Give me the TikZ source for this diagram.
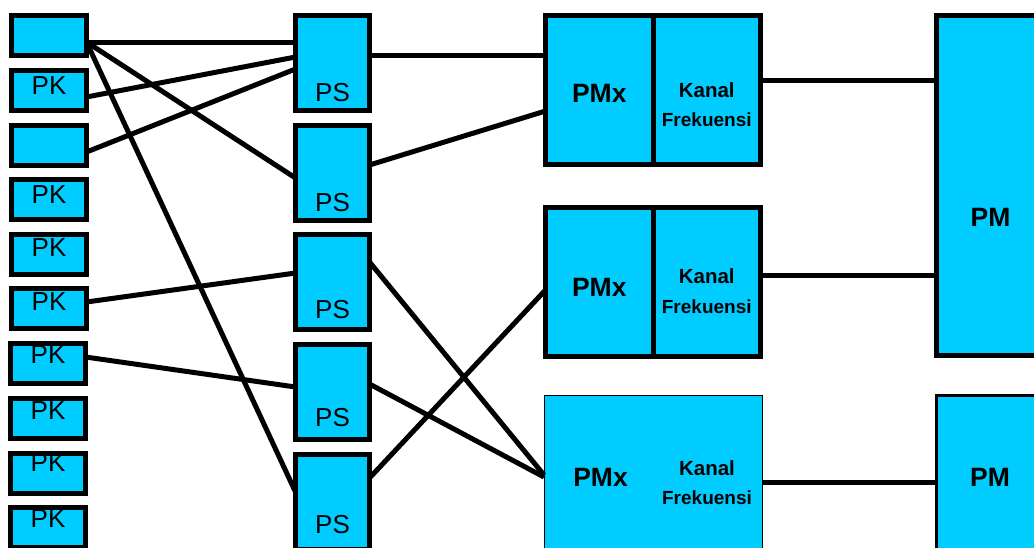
\documentclass[tikz,border=0pt]{standalone}
\usepackage{fontspec}
\setmainfont{Liberation Sans}
\definecolor{boxcyan}{HTML}{00CCFF}
\tikzset{
  blk/.style={draw=black, fill=boxcyan, line width=5pt, outer sep=0pt, inner sep=0pt},
  pkbox/.style={blk, minimum width=75pt, minimum height=40pt},
  psbox/.style={blk, minimum width=74pt, minimum height=95pt},
  halfbox/.style={blk, minimum width=107.5pt, minimum height=149pt},
  wire/.style={line width=5pt},
  pklab/.style={font=\fontsize{26}{30}\selectfont, inner sep=0pt},
  boldlab/.style={font=\fontsize{26.5}{30}\selectfont\bfseries, inner sep=0pt},
  kanal/.style={font=\fontsize{20.5}{24}\selectfont\bfseries, inner sep=0pt},
  frek/.style={font=\fontsize{19}{22}\selectfont\bfseries, inner sep=0pt},
}
\begin{document}
\begin{tikzpicture}[x=1pt,y=-1pt]
\useasboundingbox (0,0) rectangle (1034,547);
\clip (0,0) rectangle (1034,547);

% input units
\node[pkbox] (k1) at (49,35.5) {};
\node[pkbox, label={[pklab,yshift=4.5pt]center:PK}] (k2) at (49,90.5) {};
\node[pkbox] (k3) at (49,145.5) {};
\node[pkbox, label={[pklab,yshift=4.5pt]center:PK}] (k4) at (49,199.5) {};
\node[pkbox, label={[pklab,yshift=6.5pt]center:PK}] (k5) at (49,254.5) {};
\node[pkbox, label={[pklab,yshift=6.5pt]center:PK}] (k6) at (49,308.5) {};
\node[pkbox, label={[pklab,yshift=8.5pt]center:PK}] (k7) at (48,363.5) {};
\node[pkbox, label={[pklab,yshift=7.5pt]center:PK}] (k8) at (48,418.5) {};
\node[pkbox, label={[pklab,yshift=10.5pt]center:PK}] (k9) at (48,473.5) {};
\node[pkbox, label={[pklab,yshift=8.5pt]center:PK}] (k10) at (48,527.5) {};

% switching units
\node[psbox, label={[pklab,yshift=-30.5pt]center:PS}] (ps1) at (332.5,62.5) {};
\node[psbox, label={[pklab,yshift=-30.5pt]center:PS}] (ps2) at (332.5,172.5) {};
\node[psbox, label={[pklab,yshift=-28.5pt]center:PS}] (ps3) at (332.5,281.5) {};
\node[psbox, label={[pklab,yshift=-26.5pt]center:PS}] (ps4) at (332.5,391.5) {};
\node[psbox, label={[pklab,yshift=-23.5pt]center:PS}] (ps5) at (332.5,501.5) {};

% multiplexers with frequency channels
\node[halfbox, label={[boldlab,yshift=-3pt]center:PMx}] (pmx1) at (599.25,90) {};
\node[halfbox, label={[kanal]center:Kanal}, label={[frek,yshift=-30pt]center:Frekuensi}] (kf1) at (706.75,90) {};
\node[halfbox, label={[boldlab,yshift=-5pt]center:PMx}] (pmx2) at (599.25,282) {};
\node[halfbox, label={[kanal,yshift=6pt]center:Kanal}, label={[frek,yshift=-25pt]center:Frekuensi}] (kf2) at (706.75,282) {};
\node[blk, line width=1pt, minimum width=218pt, minimum height=154pt,
      label={[boldlab,xshift=-52.5pt,yshift=-5pt]center:PMx},
      label={[kanal,xshift=54pt,yshift=4pt]center:Kanal},
      label={[frek,xshift=54pt,yshift=-26pt]center:Frekuensi}] (pmx3) at (653,472) {};

% receivers
\node[blk, line width=5pt, minimum width=108pt, minimum height=340pt,
      label={[boldlab,yshift=-31.5pt]center:PM}] (pm1) at (990.5,185.5) {};
\node[blk, line width=3pt, minimum width=108pt, minimum height=163pt,
      label={[boldlab]center:PM}] (pm2) at (990,477) {};

% PK -> PS
\draw[wire] ([yshift=-6.5pt]k1.east) -- ([yshift=20.5pt]ps1.west);
\draw[wire] ([yshift=-6.5pt]k1.east) -- ([yshift=-5.5pt]ps2.west);
\draw[wire] ([yshift=-6.5pt]k1.east) -- ([yshift=9.5pt]ps5.west);
\draw[wire] ([yshift=-6.5pt]k2.east) -- ([yshift=5.5pt]ps1.west);
\draw[wire] ([yshift=-6.5pt]k3.east) -- ([yshift=-6.5pt]ps1.west);
\draw[wire] ([yshift=6.5pt]k6.east) -- ([yshift=8.5pt]ps3.west);
\draw[wire] ([yshift=6.5pt]k7.east) -- ([yshift=4.5pt]ps4.west);

% PS -> PMx
\draw[wire] ([yshift=7.5pt]ps1.east) -- ([yshift=35pt]pmx1.west);
\draw[wire] ([yshift=7.5pt]ps2.east) -- ([yshift=-21pt]pmx1.west);
\draw[wire] ([yshift=19.5pt]ps3.east) -- ([yshift=-3pt]pmx3.west);
\draw[wire] ([yshift=7.5pt]ps4.east) -- ([yshift=-5pt]pmx3.west);
\draw[wire] ([yshift=23.5pt]ps5.east) -- ([yshift=-8pt]pmx2.west);

% channels -> PM
\draw[wire] ([yshift=10pt]kf1.east) -- ([yshift=10pt]kf1.east -| pm1.west);
\draw[wire] ([yshift=7pt]kf2.east) -- ([yshift=7pt]kf2.east -| pm1.west);
\draw[wire] ([yshift=-10pt]pmx3.east) -- ([yshift=-10pt]pmx3.east -| pm2.west);
\end{tikzpicture}
\end{document}
